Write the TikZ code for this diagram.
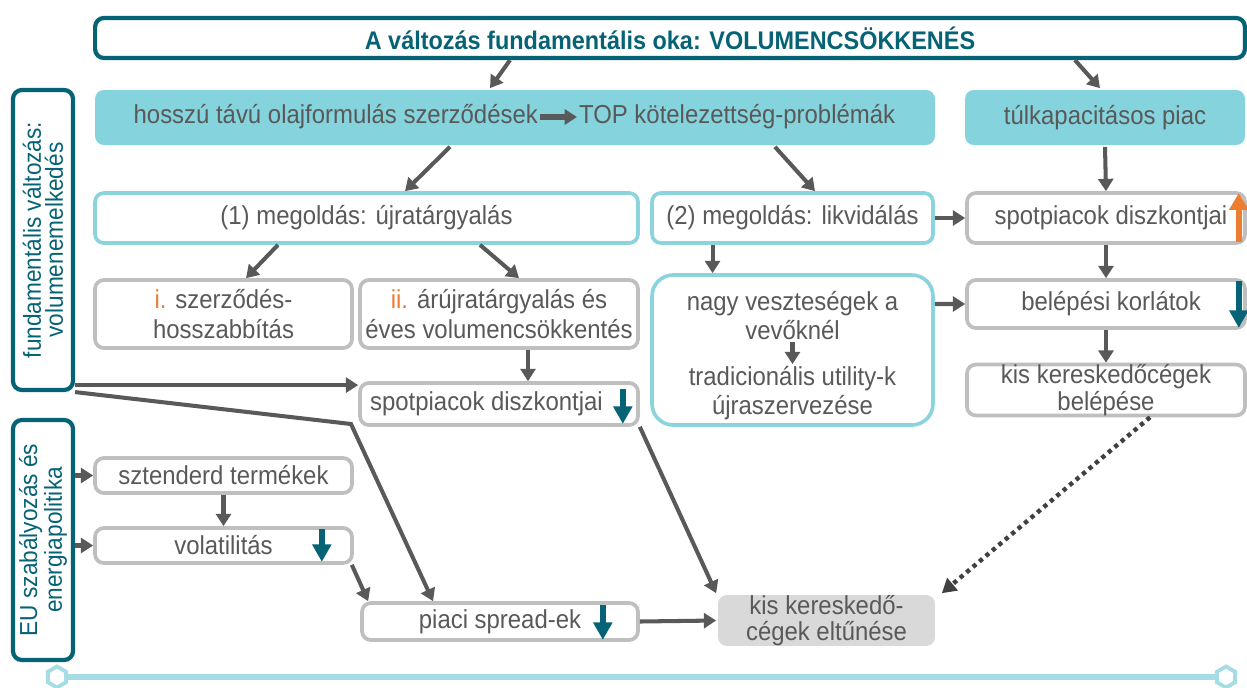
\documentclass[tikz,border=0pt]{standalone}
\usepackage{fontspec}
\setmainfont{Liberation Sans}[FakeStretch=0.92]
\usetikzlibrary{arrows.meta,shapes.geometric}
\definecolor{darkteal}{RGB}{6,99,118}
\definecolor{lightteal}{RGB}{133,211,220}
\definecolor{tealline}{RGB}{139,212,221}
\definecolor{boxgray}{RGB}{191,191,191}
\definecolor{fillgray}{RGB}{217,217,217}
\definecolor{arrgray}{RGB}{89,89,89}
\definecolor{dotgray}{RGB}{64,64,64}
\definecolor{orangei}{RGB}{237,125,49}
\definecolor{rulecol}{RGB}{166,221,228}
\begin{document}
\begin{tikzpicture}[x=0.02cm,y=-0.02cm,
box/.style={draw=boxgray,line width=2.1pt,rounded corners=5pt,fill=white,text=arrgray,align=center,inner sep=0pt,font=\fontsize{14.8}{17}\selectfont},
solbox/.style={box,draw=tealline},
headbox/.style={box,draw=none,fill=lightteal},
sidebox/.style={box,draw=darkteal,line width=2.4pt},
lbl/.style={text=arrgray,align=center,inner sep=1pt,font=\fontsize{14.8}{16.5}\selectfont},
sidetxt/.style={rotate=90,text=darkteal,align=center,inner sep=0pt,font=\fontsize{14}{12.5}\selectfont},
arr/.style={draw=arrgray,line width=2.3pt,-{Triangle[length=7pt,width=8.5pt]}},
dotarr/.style={draw=dotgray,line width=2.5pt,dash pattern=on 2.4pt off 2.4pt,-{Triangle[length=8pt,width=9pt]}},
downarr/.style={draw=darkteal,line width=3.4pt,-{Triangle[length=10pt,width=10.5pt]}},
uparr/.style={draw=orangei,line width=3.4pt,-{Triangle[length=9.5pt,width=10.5pt]}},
hexa/.style={regular polygon,regular polygon sides=6,shape border rotate=30,draw=rulecol,line width=2.2pt,fill=white,minimum size=0.42cm,inner sep=0pt}]
\useasboundingbox(0,0)rectangle(1247,687);
% top row
\node(title)[sidebox,minimum width=23cm,minimum height=0.8cm,text=darkteal,font=\fontsize{14.5}{16}\bfseries\selectfont]at(670,38){A változás fundamentális oka: VOLUMENCSÖKKENÉS};
\node(hosszu)[headbox,minimum width=16.8cm,minimum height=1.1cm]at(515,117.5){};
\node(olaj)[lbl,anchor=east]at(540,117){hosszú távú olajformulás szerződések};
\node(top)[lbl,anchor=west]at(577,117){TOP kötelezettség-problémák};
\node(tulkap)[headbox,minimum width=5.6cm,minimum height=1.1cm]at(1105,117.5){túlkapacitásos piac};
% second row
\node(m1)[solbox,minimum width=10.86cm,minimum height=1cm]at(366.5,218){(1) megoldás: újratárgyalás};
\node(m2)[solbox,minimum width=5.62cm,minimum height=1cm]at(792.5,218){(2) megoldás: likvidálás};
\node(spotR)[box,minimum width=5.56cm,minimum height=1cm]at(1106,218){\hspace{0.2cm}spotpiacok diszkontjai};
% third row
\node(ia)[box,minimum width=5.14cm,minimum height=1.36cm]at(223.5,314){{\color{orangei}i.} szerződés-\\hosszabbítás};
\node(iib)[box,minimum width=5.56cm,minimum height=1.36cm]at(499,314){{\color{orangei}ii.} árújratárgyalás és\\éves volumencsökkentés};
\node(nagy)[solbox,rounded corners=12pt,minimum width=5.62cm,minimum height=3cm]at(792.5,350){};
\node(loss)[lbl]at(792.5,316){nagy veszteségek a\\vevőknél};
\node(reorg)[lbl]at(792.5,393){tradicionális utility-k\\újraszervezése};
\node(belep)[box,minimum width=5.56cm,minimum height=0.96cm]at(1106,304){\hspace{0.2cm}belépési korlátok};
\node(kisbel)[box,minimum width=5.56cm,minimum height=1cm,font=\fontsize{14.8}{13}\selectfont]at(1106,390){kis kereskedőcégek\\belépése};
\node(spotL)[box,minimum width=5.56cm,minimum height=0.84cm]at(499,404){spotpiacok diszkontjai\hspace{0.5cm}};
% left side
\node(fund)[sidebox,minimum width=1.2cm,minimum height=6cm]at(43,240){};
\node(fundtxt)[sidetxt]at(fund){fundamentális változás:\\volumenemelkedés};
\node(eu)[sidebox,minimum width=1.2cm,minimum height=4.8cm]at(43,540){};
\node(eutxt)[sidetxt]at(eu){EU szabályozás és\\energiapolitika};
\node(sztend)[box,minimum width=5.14cm,minimum height=0.7cm]at(223.5,475.5){sztenderd termékek};
\node(volat)[box,minimum width=5.14cm,minimum height=0.7cm]at(223.5,545.5){volatilitás};
\node(piaci)[box,minimum width=5.52cm,minimum height=0.74cm]at(500,621.5){piaci spread-ek};
\node(elt)[box,draw=none,fill=fillgray,minimum width=4.34cm,minimum height=0.9cm,font=\fontsize{14.8}{15}\selectfont]at(826.5,620.5){kis kereskedő-\\cégek eltűnése};
\coordinate(kink)at(351,424);
% connectors
\draw[arr]([xshift=-3.2cm]title.south)--([xshift=-0.5cm]hosszu.north);
\draw[arr]([xshift=8.1cm]title.south)--([xshift=-0.1cm]tulkap.north);
\draw[arr,line width=3pt](olaj.east)--(top.west);
\draw[arr]([xshift=-1.3cm]hosszu.south)--([xshift=0.77cm]m1.north);
\draw[arr]([xshift=5.2cm]hosszu.south)--([xshift=0.45cm]m2.north);
\draw[arr](tulkap.south)--(spotR.north);
\draw[arr]([xshift=-1.77cm]m1.south)--([xshift=0.45cm]ia.north);
\draw[arr]([xshift=2.27cm]m1.south)--([xshift=0.4cm]iib.north);
\draw[arr]([xshift=-1.6cm]m2.south)--([xshift=-1.6cm]nagy.north);
\draw[arr](m2.east)--(spotR.west);
\draw[arr](loss.south)--(reorg.north);
\draw[arr](spotR.south)--(belep.north);
\draw[arr]([yshift=0.92cm]nagy.east)--(belep.west);
\draw[arr](belep.south)--(kisbel.north);
\draw[arr]([xshift=0.58cm]iib.south)--([xshift=0.58cm]spotL.north);
\draw[arr]([yshift=0.14cm]fund.south east)--([yshift=0.14cm]fund.south east-|spotL.west);
\draw[arr](fund.south east)--(kink)--([xshift=-1.34cm]piaci.north);
\draw[arr](eu.east|-sztend.west)--(sztend.west);
\draw[arr](eu.east|-volat.west)--(volat.west);
\draw[arr](sztend.south)--(volat.north);
\draw[arr]([xshift=-0.04cm]volat.south east)--([xshift=0.16cm]piaci.north west);
\draw[arr](piaci.east)--(elt.west);
\draw[arr](spotL.south east)--(elt.north west);
\draw[dotarr]([xshift=0.88cm]kisbel.south)--([xshift=0.1cm]elt.north east);
% small trend arrows
\draw[uparr]([xshift=-0.16cm,yshift=0.06cm]spotR.south east)--([xshift=-0.16cm,yshift=-0.04cm]spotR.north east);
\draw[downarr]([xshift=-0.16cm,yshift=-0.06cm]belep.north east)--([xshift=-0.16cm,yshift=0.04cm]belep.south east);
\draw[downarr]([xshift=-0.34cm,yshift=-0.16cm]spotL.north east)--([xshift=-0.34cm,yshift=0.06cm]spotL.south east);
\draw[downarr]([xshift=-0.64cm,yshift=-0.06cm]volat.north east)--([xshift=-0.64cm,yshift=0.06cm]volat.south east);
\draw[downarr]([xshift=-0.74cm,yshift=-0.08cm]piaci.north east)--([xshift=-0.74cm,yshift=0.04cm]piaci.south east);
% bottom rule
\node(hexL)[hexa]at(57,677){};
\node(hexR)[hexa]at(1226,677){};
\draw[rulecol,line width=3pt](hexL)--(hexR);
\end{tikzpicture}
\end{document}
